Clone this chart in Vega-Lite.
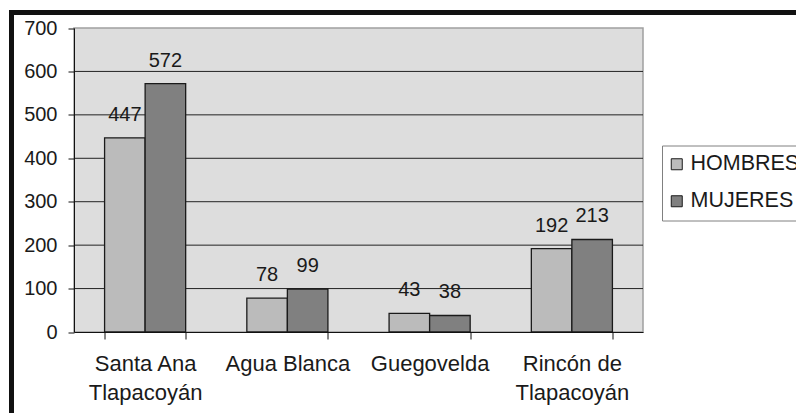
{
  "$schema": "https://vega.github.io/schema/vega-lite/v6.json",
  "autosize": {"type": "none"},
  "padding": {"left": 11.5, "top": 12.5, "right": -15.5, "bottom": -9.5},
  "width": 800,
  "height": 410,
  "background": "white",
  "config": {
    "view": {"stroke": "#111111", "strokeWidth": 5, "fill": "white"},
    "font": "Liberation Sans",
    "text": {"font": "Liberation Sans"}
  },
  "datasets": {
    "poblacion": [
      {"lugar": "Santa Ana Tlapacoyán", "sexo": "HOMBRES", "valor": 447},
      {"lugar": "Santa Ana Tlapacoyán", "sexo": "MUJERES", "valor": 572},
      {"lugar": "Agua Blanca", "sexo": "HOMBRES", "valor": 78},
      {"lugar": "Agua Blanca", "sexo": "MUJERES", "valor": 99},
      {"lugar": "Guegovelda", "sexo": "HOMBRES", "valor": 43},
      {"lugar": "Guegovelda", "sexo": "MUJERES", "valor": 38},
      {"lugar": "Rincón de Tlapacoyán", "sexo": "HOMBRES", "valor": 192},
      {"lugar": "Rincón de Tlapacoyán", "sexo": "MUJERES", "valor": 213}
    ],
    "fondo": [{"desde": 0, "hasta": 700}],
    "rejilla": [{"v": 100}, {"v": 200}, {"v": 300}, {"v": 400}, {"v": 500}, {"v": 600}]
  },
  "resolve": {"scale": {"x": "independent"}, "axis": {"x": "independent"}},
  "layer": [
    {
      "layer": [
        {
          "data": {"name": "fondo"},
          "mark": {"type": "rect", "fill": "#DDDDDD", "stroke": "#A0A0A0", "strokeWidth": 1.5},
          "encoding": {
            "x": {"datum": 0, "type": "quantitative", "scale": {"domain": [0, 1], "range": [62.5, 631.5]}, "axis": null},
            "x2": {"datum": 1},
            "y": {
              "field": "desde", "type": "quantitative",
              "scale": {"domain": [0, 700], "range": [319.5, 15.5], "nice": false},
              "axis": {
                "title": null, "orient": "left", "offset": -62.5, "zindex": 1,
                "values": [0, 100, 200, 300, 400, 500, 600, 700],
                "grid": false,
                "domainColor": "#111111", "domainWidth": 1,
                "tickColor": "#111111", "tickSize": 6,
                "labelFont": "Liberation Sans", "labelFontSize": 20, "labelColor": "#1a1a1a",
                "labelPadding": 11
              }
            },
            "y2": {"field": "hasta"}
          }
        },
        {
          "data": {"name": "rejilla"},
          "mark": {"type": "rule", "color": "#222222", "strokeWidth": 1},
          "encoding": {
            "x": {"datum": 0, "type": "quantitative"},
            "x2": {"datum": 1},
            "y": {"field": "v", "type": "quantitative"}
          }
        }
      ]
    },
    {
      "data": {"name": "poblacion"},
      "encoding": {
        "x": {
          "field": "lugar", "type": "nominal", "sort": null,
          "scale": {"range": [62.5, 631.5], "paddingInner": 0.43, "paddingOuter": 0.215},
          "axis": {
            "title": null, "orient": "bottom", "offset": -90.5, "zindex": 1,
            "domainColor": "#111111", "domainWidth": 1,
            "tickColor": "#111111", "tickSize": 7, "tickBand": "extent",
            "labelFont": "Liberation Sans", "labelFontSize": 22, "labelColor": "#1a1a1a",
            "labelPadding": 14, "labelLineHeight": 29, "labelAngle": 0, "labelLimit": 300,
            "labelExpr": "datum.value == 'Santa Ana Tlapacoyán' ? ['Santa Ana', 'Tlapacoyán'] : datum.value == 'Rincón de Tlapacoyán' ? ['Rincón de', 'Tlapacoyán'] : datum.value"
          }
        },
        "xOffset": {"field": "sexo", "type": "nominal", "sort": ["HOMBRES", "MUJERES"]},
        "y": {"field": "valor", "type": "quantitative"}
      },
      "layer": [
        {
          "mark": {"type": "bar", "stroke": "#1a1a1a", "strokeWidth": 1.3},
          "encoding": {
            "fill": {
              "field": "sexo", "type": "nominal",
              "scale": {"domain": ["HOMBRES", "MUJERES"], "range": ["#BBBBBB", "#808080"]},
              "legend": {
                "title": null, "orient": "none", "legendX": 650.5, "legendY": 133,
                "direction": "vertical",
                "fillColor": "white", "strokeColor": "#808080",
                "padding": 8, "rowPadding": 14,
                "symbolType": "square", "symbolSize": 121, "symbolStrokeColor": "#1a1a1a", "symbolStrokeWidth": 1,
                "symbolOffset": -4,
                "labelFont": "Liberation Sans", "labelFontSize": 21.5, "labelColor": "#1a1a1a", "labelOffset": 3, "labelLimit": 400
              }
            }
          }
        },
        {
          "mark": {"type": "text", "baseline": "alphabetic", "align": "center", "dy": -17, "fontSize": 20, "color": "#1a1a1a", "font": "Liberation Sans"},
          "encoding": {
            "text": {"field": "valor", "type": "quantitative"}
          }
        }
      ]
    }
  ]
}
